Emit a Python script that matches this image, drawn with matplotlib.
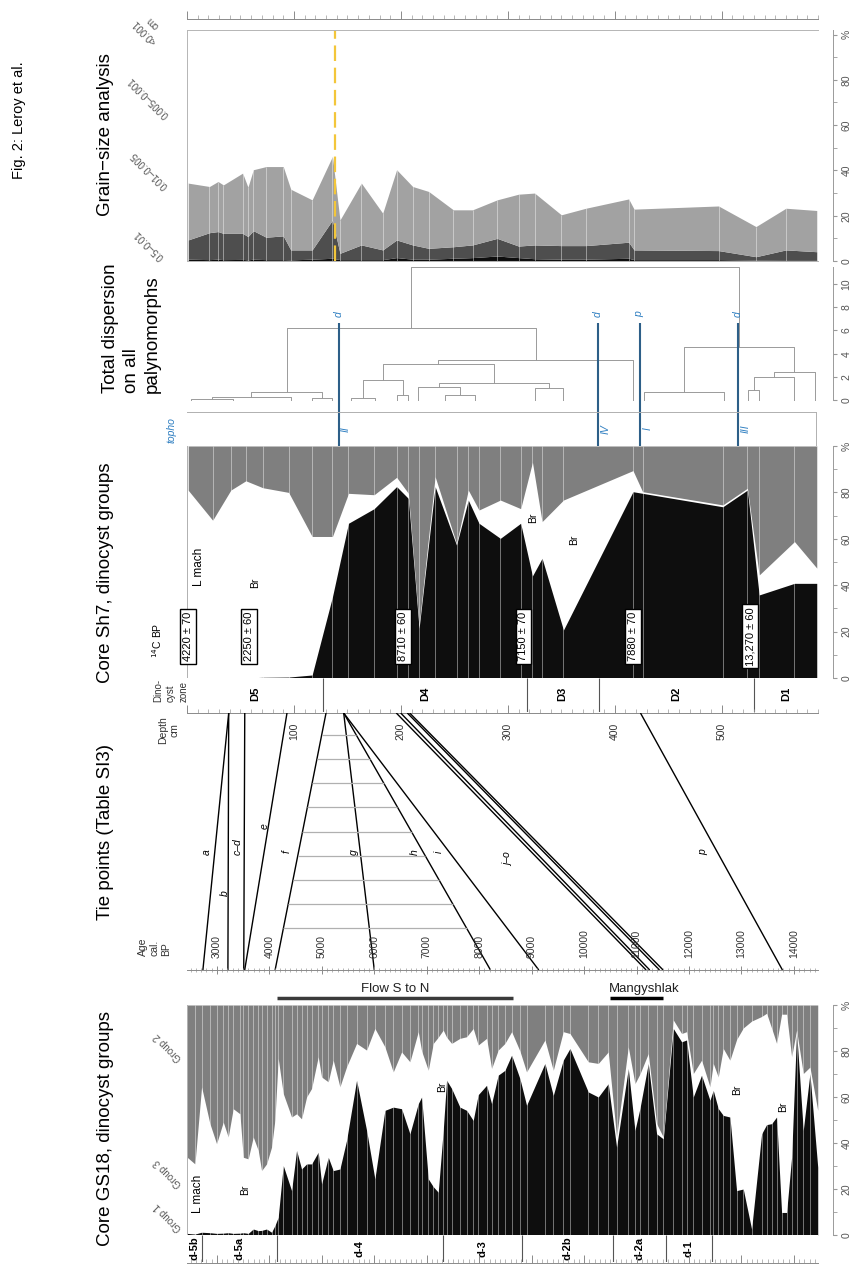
import matplotlib
matplotlib.use('Agg')
import matplotlib.pyplot as plt
import numpy as np

plt.rcParams['font.family'] = ['Liberation Sans', 'DejaVu Sans']

# ---------------- data ----------------
DEPTH_LIM = (0, 590)        # cm, core Sh7
AGE_LIM = (2430, 14460)     # cal BP, core GS18

# grain-size, core Sh7 (cumulative %: 0.5-0.01 / +0.01-0.005 / +0.005-0.001)
gsz_depth = [1, 21, 29, 34, 52, 57, 62, 74, 90, 97, 117, 136, 143, 163, 183, 196,
             211, 226, 249, 267, 290, 310, 325, 350, 373, 413, 418, 497, 532, 560, 589]
gsz_cum1 = [0.8, 0.6, 0.8, 0.6, 0.7, 0.5, 0.8, 0.6, 0.6, 0.5, 0.8, 1.2, 0.6, 0.6, 0.6, 1.5,
            0.8, 0.8, 1.2, 1.5, 2.2, 1.5, 1.0, 0.8, 0.8, 1.2, 0.6, 0.6, 0.4, 0.5, 0.5]
gsz_cum2 = [9.3, 12.5, 13, 12.2, 12.2, 10.8, 13.4, 10.5, 11.1, 4.9, 4.9, 18.1, 3.4, 7.1, 4.9, 9.3,
            7.1, 5.6, 6.3, 7.1, 10, 6.6, 7.1, 6.8, 6.8, 8.3, 4.9, 4.6, 1.9, 4.9, 4.1]
gsz_cum3 = [34.4, 32.9, 35.1, 33.6, 38.8, 32.6, 40.3, 41.7, 41.7, 31.7, 27, 46.2, 18.1, 34.4, 21.1, 40.3,
            32.9, 30.7, 22.6, 22.6, 27, 29.5, 30, 20.4, 23.3, 27.4, 22.9, 24.3, 15.2, 23.3, 22.3]
gsz_fractions = ['0.5\u20130.01', '0.01\u20130.005', '0.005\u20130.001', '<0.001\ncm']
yellow_depth = 138

# cluster tree (height, left, right); leaves are sample depths
tree = [11.5,
        [6.2,
         [0.7, [0.3, [0.1, 4, 43], 97], [0.2, 117, 136]],
         [3.45,
          [3.07,
           [1.7, [0.15, 153, 176], [0.4, 196, 207]],
           [1.43, [1.1, 216, [0.4, 241, 269]], [1.0, 325, 352]]],
          417]],
        [4.6,
         [0.7, 427, 502],
         [2.45, [2.0, [0.86, 525, 535], 568], 587]]]
topho_depth = [141.7, 384.4, 423.3, 515]
topho_top = ['d', 'd', 'p', 'd']
topho_roman = ['II', 'IV', 'I', 'III']

# core Sh7 dinocyst groups (Group 1 %, Group 1 + Group 3 %)
sh7_depth = [1, 24, 41, 55, 71, 95, 117, 136, 151, 175, 196, 207, 217, 232, 252, 263, 273,
             293, 312, 323, 332, 352, 417, 426, 501, 524, 535, 568, 589]
sh7_g1 = [0, 0, 0, 0, 0.3, 0.4, 1.3, 35, 66.7, 73, 82.5, 77.4, 21.4, 82.5, 57.3, 76.7, 66.7,
          60.2, 66.7, 44, 51.6, 20.7, 80.3, 79.6, 73.8, 81, 35.8, 40.8, 40.8]
sh7_g13 = [81, 68, 81, 85, 82, 80, 61, 61, 79.6, 79, 86.5, 79.6, 22.8, 86.8, 58, 81, 72.4,
           76.7, 73, 93, 67.4, 76.7, 89.4, 80.3, 74.6, 81.8, 44.4, 58.8, 47.3]
sh7_dates_depth = [1, 58, 202, 314.5, 417, 526.5]
sh7_dates = ['4220 \u00b1 70', '2250 \u00b1 60', '8710 \u00b1 60', '7150 \u00b1 70',
             '7880 \u00b1 70', '13,270 \u00b1 60']
sh7_zone_bounds = [127.4, 317.6, 385, 530.5]
sh7_zones = ['D5', 'D4', 'D3', 'D2', 'D1']

# tie points: depth in Sh7 (cm) -> age (cal BP)
tie_depth = [39, 39, 54, 93.5, 130, 146.5, 146.5, 146.5, 195.7, 199.8, 206, 208.2, 424]
tie_age = [2733, 3210, 3512, 3530, 4110, 6001, 8216, 9137, 11183, 11252, 11438, 11507, 13782]
tie_labels = ['a', 'b', 'c\u2013d', 'e', 'f', 'g', 'h', 'i', 'j\u2013o', 'p']
hatch_levels = [0.086, 0.179, 0.272, 0.366, 0.463, 0.556, 0.65, 0.743, 0.837]

flow_period = (4150, 8640)
mangyshlak_period = (10500, 11500)

# core GS18 dinocyst groups
gs18_age = [2434, 2581, 2708, 2867, 2994, 3121, 3216, 3311, 3439, 3502, 3597, 3693, 3788, 3852,
            3947, 4042, 4106, 4169, 4265, 4424, 4519, 4614, 4710, 4805, 4932, 4996, 5123, 5218,
            5345, 5472, 5663, 5854, 6012, 6203, 6362, 6521, 6680, 6839, 6903, 7030, 7125, 7220,
            7315, 7379, 7475, 7633, 7761, 7887, 7982, 8142, 8237, 8363, 8491, 8619, 8777, 8904,
            9254, 9413, 9603, 9731, 10080, 10271, 10461, 10620, 10843, 10970, 11065, 11224, 11383,
            11510, 11701, 11860, 11955, 12082, 12240, 12400, 12463, 12558, 12654, 12781, 12908,
            13035, 13194, 13385, 13480, 13575, 13671, 13766, 13861, 13957, 14052, 14179, 14306, 14455]
gs18_g1 = [0.7, 0.4, 1.2, 1.0, 0.7, 0.8, 1.0, 0.7, 0.8, 1.0, 0.7, 2.6, 1.9, 2.0,
           2.6, 1.2, 4.1, 7.7, 30.2, 19.3, 36.8, 28.7, 30.9, 30.9, 36, 22.2, 33.8, 28,
           28.7, 41.1, 67.3, 45.5, 24.4, 54.2, 55.6, 54.9, 44, 57.1, 60, 24.4, 21, 18.6,
           45.5, 67.3, 63.7, 55.6, 54.2, 49.8, 61, 65.1, 57.1, 69.5, 71.6, 78.2, 68, 56.4,
           74.6, 60.7, 76, 81.1, 62.2, 60, 65.8, 38.2, 72.4, 45.5, 55, 74.6, 44,
           41.8, 89.8, 84, 84.8, 60, 69.5, 58.6, 62.9, 55, 52, 51.3, 19.3,
           20, 2.6, 44, 48, 48.4, 51.3, 9.8, 9.8, 33.8, 88.4, 45.5, 70.2, 29.5]
gs18_g13 = [33.8, 30.9, 64.4, 48.4, 39.7, 49.1, 42.6, 54.9, 52.7, 33.8, 33.1, 42.6, 36.8, 28,
            30.9, 38.2, 50, 76.8, 61.5, 51.3, 52.7, 50.5, 60, 63.7, 77.5, 68.7, 66.6, 76,
            64.4, 73.1, 83.3, 80.4, 89.8, 81.8, 70.9, 79.6, 75.3, 88.4, 80, 71.6, 83.3, 86,
            89.1, 86, 83.3, 85.5, 86.2, 89.8, 82.6, 85.5, 72.4, 80.4, 83.3, 88.4, 80, 70.9,
            84.8, 71.6, 88.4, 87.6, 75.3, 74.6, 79.6, 42.6, 81.8, 65.8, 70, 78.9, 48.4,
            42.6, 93.5, 87.6, 88.4, 70.2, 76, 64.4, 74.6, 68.7, 81.1, 76, 85,
            90, 93, 95, 96.4, 90, 83.3, 96, 96, 77.5, 89.1, 70.2, 73, 54.2]
gs18_zone_bounds = [2708, 4138, 7315, 8809, 10556, 11555, 12443]
gs18_zones = ['d-5b', 'd-5a', 'd-4', 'd-3', 'd-2b', 'd-2a', 'd-1', '']

# ---------------- layout helpers ----------------
W, H = 851, 1268
fig = plt.figure(figsize=(W / 100, H / 100), dpi=100)
X0, X1 = 187, 818
BLACK = '#0e0e0e'
GREY = '#7f7f7f'
BLUE_T = '#2f7fc1'
BLUE_L = '#2d5f88'


def box(x0, y0, x1, y1):
    return [x0 / W, 1 - y1 / H, (x1 - x0) / W, (y1 - y0) / H]


def bare(ax):
    for s in ax.spines.values():
        s.set_visible(False)
    ax.set_xticks([])
    ax.set_yticks([])


def pct_axis(ax, ticks, labels, top=None):
    bare(ax)
    ax.spines['right'].set_visible(True)
    ax.spines['right'].set_position(('outward', 11))
    ax.spines['right'].set_color('#9a9a9a')
    ax.spines['right'].set_linewidth(0.7)
    if top is not None:
        ax.spines['right'].set_bounds(ticks[0], top)
    ax.yaxis.tick_right()
    ax.set_yticks(ticks)
    ax.set_yticklabels(labels, rotation=90, va='center', fontsize=7.5, color='#555555')
    ax.tick_params(axis='y', which='both', color='#9a9a9a', length=3, pad=3)


def ruler(y, lim, major, minor, labels=None, side='bottom', direction='in', pad=8):
    ax = fig.add_axes(box(X0, y - 0.5, X1, y))
    bare(ax)
    ax.set_xlim(lim)
    sp = ax.spines[side]
    sp.set_visible(True)
    sp.set_color('#8a8a8a')
    sp.set_linewidth(0.7)
    if side == 'top':
        ax.xaxis.tick_top()
    ax.set_xticks(major)
    ax.set_xticks(minor, minor=True)
    if labels is None:
        ax.set_xticklabels([])
    else:
        ax.set_xticklabels(labels, rotation=90, fontsize=7.5, color='#333333')
    ax.tick_params(axis='x', which='major', direction=direction, length=6, width=0.7,
                   color='#8a8a8a', pad=pad)
    ax.tick_params(axis='x', which='minor', direction=direction, length=3, width=0.5,
                   color='#9a9a9a')
    return ax


def ftext(x, y, s, **kw):
    kw.setdefault('rotation', 90)
    kw.setdefault('ha', 'center')
    kw.setdefault('va', 'center')
    fig.text(x / W, 1 - y / H, s, **kw)


# ---------------- grain-size ----------------
ax_g = fig.add_axes(box(X0, 30, X1, 261))
ax_g.fill_between(gsz_depth, 0, gsz_cum1, color=BLACK, lw=0)
ax_g.fill_between(gsz_depth, gsz_cum1, gsz_cum2, color='#4e4e4e', lw=0)
ax_g.fill_between(gsz_depth, gsz_cum2, gsz_cum3, color='#a2a2a2', lw=0)
ax_g.vlines(gsz_depth, 0, gsz_cum3, color='white', lw=0.5, alpha=0.6)
ax_g.axvline(yellow_depth, color='#f3c63a', ls=(0, (7, 3)), lw=1.6)
ax_g.set_xlim(DEPTH_LIM)
ax_g.set_ylim(0, 102)
pct_axis(ax_g, [0, 20, 40, 60, 80, 100], ['0', '20', '40', '60', '80', '%'])
for s in ['left', 'top', 'bottom']:
    ax_g.spines[s].set_visible(True)
    ax_g.spines[s].set_color('#b5b5b5')
    ax_g.spines[s].set_linewidth(0.7)
ax_g.axvline(DEPTH_LIM[1], color='#b5b5b5', lw=0.7)
ax_g.set_yticks(np.arange(10, 100, 20), minor=True)
ruler(19, DEPTH_LIM, np.arange(0, 591, 100), np.arange(0, 591, 10))
for s, yy in zip(gsz_fractions, [245, 170, 97, 27]):
    ftext(149, yy, s, rotation=135, fontsize=7, color='#555555')

# ---------------- dendrogram ----------------
ax_d = fig.add_axes(box(X0, 262, X1, 412))
ax_d.set_xlim(DEPTH_LIM)
ax_d.set_ylim(-1.03, 11.9)


def draw(node):
    if not isinstance(node, list):
        return node, 0.0
    h, a, b = node
    xa, ha = draw(a)
    xb, hb = draw(b)
    ax_d.plot([xa, xa, xb, xb], [ha, h, h, hb], color='#9a9a9a', lw=0.7)
    return (xa + xb) / 2, h


draw(tree)
pct_axis(ax_d, [0, 2, 4, 6, 8, 10], ['0', '2', '4', '6', '8', '10'], top=11.5)
ax_d.vlines(topho_depth, -1.03, 6.6, color=BLUE_L, lw=1.5)
for d, s in zip(topho_depth, topho_top):
    ax_d.text(d, 7.4, s, rotation=90, ha='center', va='center', fontsize=7.5,
              style='italic', color=BLUE_T)

ax_tp = fig.add_axes(box(X0, 412, 816, 446))
bare(ax_tp)
ax_tp.set_xlim(DEPTH_LIM[0], DEPTH_LIM[0] + (DEPTH_LIM[1] - DEPTH_LIM[0]) * (816 - X0) / (X1 - X0))
ax_tp.set_ylim(0, 1)
for s in ['top', 'right']:
    ax_tp.spines[s].set_visible(True)
    ax_tp.spines[s].set_color('#b0b0b0')
    ax_tp.spines[s].set_linewidth(0.7)
ax_tp.vlines(topho_depth, 0, 1, color=BLUE_L, lw=1.5)
for d, s in zip(topho_depth, topho_roman):
    ax_tp.text(d + 7, 0.5, s, rotation=90, ha='center', va='center', fontsize=7.5,
               style='italic', color=BLUE_T)
ftext(172, 430, 'topho', fontsize=7.5, style='italic', color=BLUE_T)

# ---------------- core Sh7 ----------------
ax_s = fig.add_axes(box(X0, 446, X1, 678))
ax_s.fill_between(sh7_depth, 0, sh7_g1, color=BLACK, lw=0)
ax_s.fill_between(sh7_depth, sh7_g13, 100, color=GREY, lw=0)
ax_s.vlines(sh7_depth, 0, 100, color='white', lw=0.6, alpha=0.5)
ax_s.set_xlim(DEPTH_LIM)
ax_s.set_ylim(0, 100)
pct_axis(ax_s, [0, 20, 40, 60, 80, 100], ['0', '20', '40', '60', '80', '%'])
ax_s.set_yticks(np.arange(10, 100, 20), minor=True)
ax_s.spines['left'].set_visible(True)
ax_s.spines['left'].set_color('#b0b0b0')
ax_s.spines['left'].set_linewidth(0.7)
for d, s in zip(sh7_dates_depth, sh7_dates):
    ax_s.text(d, 18, s, rotation=90, ha='center', va='center', fontsize=8,
              bbox=dict(boxstyle='square,pad=0.25', fc='white', ec='black', lw=1.0))
ax_s.text(11, 48, 'L mach', rotation=90, ha='center', va='center', fontsize=8.5)
for d, p in [(64, 41), (323.5, 69), (362, 59.5)]:
    ax_s.text(d, p, 'Br', rotation=90, ha='center', va='center', fontsize=7.5)
ftext(157, 640, '$^{14}$C BP', fontsize=7.5)

ax_z = fig.add_axes(box(X0, 678, X1, 713))
bare(ax_z)
ax_z.set_xlim(DEPTH_LIM)
ax_z.set_ylim(0, 1)
ax_z.vlines(sh7_zone_bounds, 0, 1, color='#555555', lw=0.8)
zb = [DEPTH_LIM[0]] + sh7_zone_bounds + [DEPTH_LIM[1]]
for i, z in enumerate(sh7_zones):
    ax_z.text((zb[i] + zb[i + 1]) / 2, 0.55, z, rotation=90, ha='center', va='center',
              fontsize=8, fontweight='bold')
ftext(171, 690, 'Dino-\ncyst\nzone', fontsize=7, linespacing=1.35, multialignment='left',
      color='#333333')

ruler(713, DEPTH_LIM, np.arange(0, 591, 100), np.arange(0, 591, 10),
      labels=['', '100', '200', '300', '400', '500'], direction='in', pad=7)
ftext(169, 730, 'Depth\ncm', fontsize=7.5, linespacing=1.2, color='#333333')

# ---------------- tie points ----------------
ax_t = fig.add_axes(box(X0, 713, X1, 970))
ax_t.axis('off')
ax_t.set_xlim(DEPTH_LIM)
ax_t.set_ylim(1, 0)


def age_as_depth(a):
    a = np.asarray(a, dtype=float)
    return DEPTH_LIM[0] + (a - AGE_LIM[0]) / (AGE_LIM[1] - AGE_LIM[0]) * (DEPTH_LIM[1] - DEPTH_LIM[0])


for d, a in zip(tie_depth, tie_age):
    ax_t.plot([d, age_as_depth(a)], [0, 1], color='black', lw=1.0, solid_capstyle='butt')
t = np.array(hatch_levels)
xf = tie_depth[4] + (age_as_depth(tie_age[4]) - tie_depth[4]) * t
xh = tie_depth[6] + (age_as_depth(tie_age[6]) - tie_depth[6]) * t
ax_t.hlines(t, xf, xh, color='#b0b0b0', lw=0.9)
label_pos = [(18.6, 0.54), (35.4, 0.70), (47.6, 0.52), (72.7, 0.44), (93, 0.54),
             (155.7, 0.54), (212.6, 0.54), (235, 0.54), (300, 0.57), (483, 0.54)]
for s, (x, y) in zip(tie_labels, label_pos):
    ax_t.text(x, y, s, rotation=90, ha='center', va='center', fontsize=7.5, style='italic')

ruler(970, AGE_LIM, np.arange(3000, 14001, 1000), np.arange(2500, 14460, 100),
      labels=[str(v) for v in range(3000, 14001, 1000)], side='top', direction='inout', pad=5)
ftext(155, 947, 'Age\ncal.\nBP', fontsize=7.5, linespacing=1.2, multialignment='left',
      color='#333333')

# ---------------- flow bars ----------------
ax_f = fig.add_axes(box(X0, 980, X1, 1003))
bare(ax_f)
ax_f.set_xlim(AGE_LIM)
ax_f.set_ylim(0, 1)
ax_f.hlines(0.2, *flow_period, color='#3a3a3a', lw=2.5)
ax_f.hlines(0.2, *mangyshlak_period, color='black', lw=2.5)
ax_f.text(np.mean(flow_period), 0.6, 'Flow S to N', ha='center', va='center', fontsize=9.5,
          color='#222222')
ax_f.text(np.mean(mangyshlak_period) + 150, 0.6, 'Mangyshlak', ha='center', va='center',
          fontsize=9.5, color='#222222')

# ---------------- core GS18 ----------------
ax_b = fig.add_axes(box(X0, 1005, X1, 1235))
ax_b.fill_between(gs18_age, 0, gs18_g1, color=BLACK, lw=0)
ax_b.fill_between(gs18_age, gs18_g13, 100, color=GREY, lw=0)
ax_b.vlines(gs18_age, 0, 100, color='white', lw=0.6, alpha=0.5)
ax_b.set_xlim(AGE_LIM)
ax_b.set_ylim(0, 100)
pct_axis(ax_b, [0, 20, 40, 60, 80, 100], ['0', '20', '40', '60', '80', '%'])
ax_b.set_yticks(np.arange(10, 100, 20), minor=True)
ax_b.spines['left'].set_visible(True)
ax_b.spines['left'].set_color('#b0b0b0')
ax_b.spines['left'].set_linewidth(0.7)
ax_b.text(2645, 18, 'L mach', rotation=90, ha='center', va='center', fontsize=8.5)
for a, p in [(3536, 19.6), (7286, 64.5), (12910, 63), (13799, 55.8)]:
    ax_b.text(a, p, 'Br', rotation=90, ha='center', va='center', fontsize=7.5)
for s, yy in zip(['Group 1', 'Group 3', 'Group 2'], [1217, 1173, 1047]):
    ftext(168, yy, s, rotation=135, fontsize=7, color='#555555')

ax_bz = fig.add_axes(box(X0, 1235, X1, 1262))
bare(ax_bz)
ax_bz.set_xlim(AGE_LIM)
ax_bz.set_ylim(0, 1)
ax_bz.vlines(gs18_zone_bounds, 0, 1, color='#555555', lw=0.8)
zb = [AGE_LIM[0]] + gs18_zone_bounds + [AGE_LIM[1]]
for i, z in enumerate(gs18_zones):
    ax_bz.text((zb[i] + zb[i + 1]) / 2, 0.5, z, rotation=90, ha='center', va='center',
               fontsize=8, fontweight='bold')
ruler(1263, AGE_LIM, np.arange(3000, 14001, 1000), np.arange(2500, 14460, 100),
      direction='in')

# ---------------- titles ----------------
ftext(19, 120, 'Fig. 2: Leroy et al.', fontsize=10.5)
ftext(106, 135, 'Grain\u2212size analysis', fontsize=13.5)
ftext(131, 328, 'Total dispersion\non all\npalynomorphs', fontsize=13.5, linespacing=1.3,
      multialignment='left')
ftext(106, 573, 'Core Sh7, dinocyst groups', fontsize=13.5)
ftext(106, 832, 'Tie points (Table SI3)', fontsize=13.5)
ftext(106, 1128, 'Core GS18, dinocyst groups', fontsize=13.5)

fig.savefig('out.png', dpi=100)
